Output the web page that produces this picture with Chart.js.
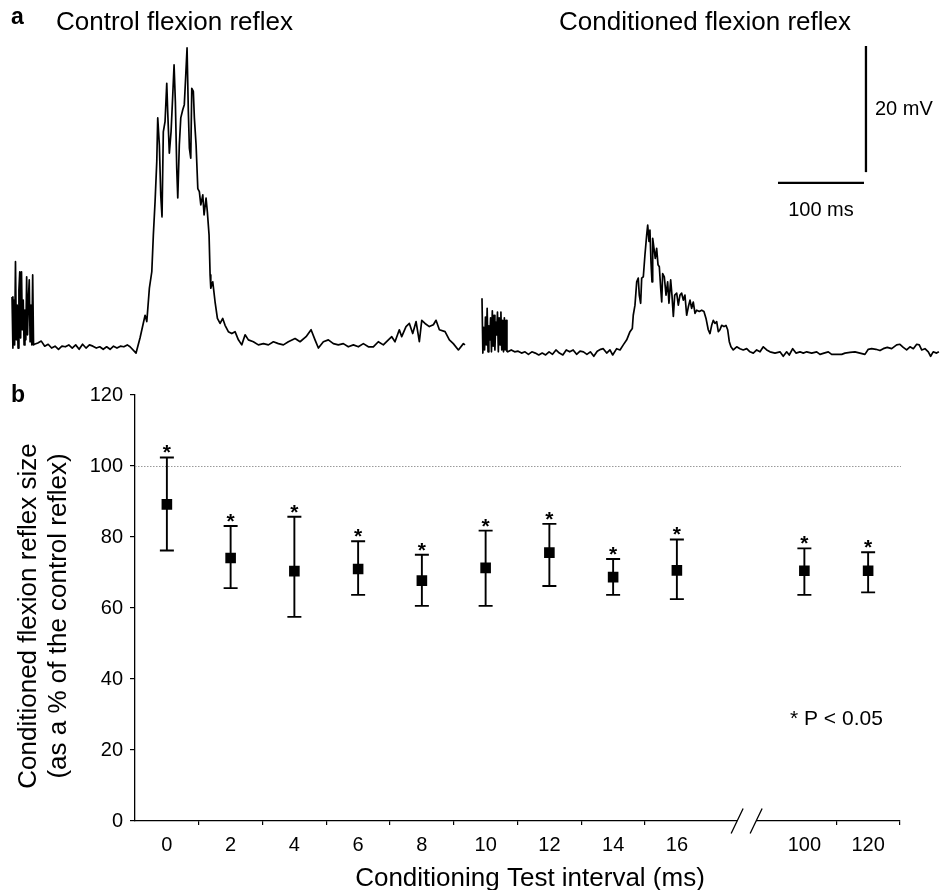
<!DOCTYPE html>
<html>
<head>
<meta charset="utf-8">
<script src="https://cdn.jsdelivr.net/npm/chart.js@4.4.1/dist/chart.umd.min.js"></script>
<style>
  html, body { margin: 0; padding: 0; background: #fff; }
  .wrap { position: relative; width: 940px; height: 890px; }
  #traces { position: absolute; left: 0; top: 0; }
  #reflex { position: absolute; left: 0; top: 372px; }
</style>
</head>
<body>
<div class="wrap">
  <canvas id="traces" width="940" height="372"></canvas>
  <canvas id="reflex" width="940" height="518"></canvas>
</div>
<script>
// Panel a : EMG traces, [time (ms), amplitude (mV)]
const controlTrace = [
  [0, 8.1], [1, 0], [2, 7.6], [3, 0.5], [4, 13.7], [5, 1.3], [6, 6.8], [7, 0], [8, 9.2], [9, 12.1],
  [10, 1.6], [11, 12.1], [12, 2.9], [13, 7.6], [14, 0.5], [15, 6.0], [16, 1.3], [17, 11.3], [18, 2.1],
  [19, 7.6], [20, 10.8], [21, 1.0], [22, 6.8], [23, 0.5], [24, 11.6], [25, 0.5],
  [26, 0.6], [30, 0.8], [34, 1.1], [38, 0.3], [42, 0.6], [46, 0], [50, 0.3], [54, -0.2], [58, 0.3],
  [62, 0.2], [66, 0.5], [70, 0], [74, 0.5], [78, -0.2], [82, 0.6], [86, 0], [90, 0.5], [94, 0.3],
  [98, 0], [102, 0.2], [106, -0.2], [110, 0.2], [114, -0.2], [118, 0.3], [122, 0], [126, 0.3],
  [130, 0.2], [134, 0.5], [137.2, 0.2], [144.2, -0.8], [148.8, 1.6], [154.7, 5.2], [156.7, 4.2],
  [159.7, 9.5], [162.5, 12.1], [164.3, 17.9], [166.3, 23.2], [168.3, 29.6], [169.4, 36.5],
  [171.3, 32.2], [172.9, 24.3], [174.4, 20.8], [175.9, 34.3], [177.9, 35.9], [179.9, 42.0],
  [181.0, 37.5], [182.9, 30.9], [184.9, 34.3], [186.9, 40.2], [188.4, 44.9], [189.9, 39.1],
  [191.5, 28.5], [192.7, 23.8], [194.5, 32.2], [196.2, 36.5], [198.5, 37.8], [200.3, 38.6],
  [202.0, 43.3], [203.5, 47.6], [205.0, 37.5], [206.2, 31.7], [207.8, 30.1], [209.0, 41.2],
  [210.8, 40.7], [212.0, 36.5], [214.0, 32.2], [216.0, 25.3], [217.8, 24.8], [219.5, 22.7],
  [221.8, 24.3], [223.3, 21.1], [225.6, 23.8], [227.1, 21.6], [229.1, 17.9], [230.3, 11.6],
  [231.1, 9.5], [233.4, 10.5], [236.1, 7.3], [238.8, 4.7], [241.9, 3.9], [245.0, 4.7], [247.7, 3.6],
  [251.5, 2.6], [255.5, 2.3], [259.3, 2.6], [263.2, 1.3], [267.1, 0.5], [271.0, 2.1], [274.8, 1.3],
  [280.6, 1.0], [286.4, 0.5], [292.3, 0.7], [298.1, 0.5], [303.9, 1.0], [309.7, 0.7], [315.5, 0.5],
  [321.3, 1.0], [329.1, 1.5], [334.9, 1.0], [341.9, 1.8], [347.7, 2.9], [352.3, 1.3], [356.2, 0.0],
  [362.0, 1.0], [367.8, 1.3], [373.6, 0.7], [379.4, 0.5], [385.2, 0.7], [391.0, 0.2], [396.9, 0.5],
  [402.7, 0.2], [408.5, 0.7], [414.3, 0.2], [420.1, 0.2], [425.9, 1.0], [431.7, 0.5], [437.6, 1.3],
  [441.5, 1.8], [445.3, 1.0], [450.3, 2.9], [453.1, 1.8], [458.1, 3.4], [462.0, 3.9], [465.9, 2.3],
  [469.8, 4.2], [473.6, 1.0], [476.4, 4.4], [480.2, 3.9], [485.2, 3.4], [489.9, 3.7], [493.0, 4.4],
  [496.9, 2.9], [503.5, 2.6], [508.5, 1.3], [513.1, 0.7], [519.0, -0.3], [524.8, 0.7], [526.7, 0.5],
];

const conditionedTrace = [
  [0, 8.7], [1, 0], [2, 4.1], [3, 0.5], [4, 5.7], [5, 1.3], [6, 7.1], [7, 0.2], [8, 4.3], [9, 2.1],
  [10, 5.6], [11, 0.2], [12, 6.7], [13, 1.1], [14, 6.0], [15, 0.5], [16, 4.9], [17, 2.9], [18, 6.5],
  [19, 0.2], [20, 5.6], [21, 1.3], [22, 6.5], [23, 0.5], [24, 5.2], [25, 0.2], [26, 5.6], [27, 0.5],
  [28, 5.2], [29, 0.3],
  [30, 0.2], [34, 0.5], [38, 0.2], [42, 0.3], [46, 0], [50, 0.2], [54, -0.2], [58, 0.2], [62, 0],
  [66, -0.3], [70, 0], [74, -0.3], [78, 0.2], [82, -0.2], [86, 0.5], [90, 0], [94, -0.3], [98, 0.5],
  [102, 0.2], [106, 0.5], [110, -0.2], [114, 0.3], [118, 0.2], [122, -0.2], [126, 0.2], [130, -0.5],
  [134, 0.3], [138, 0.6], [141.0, 0.7], [145.0, 0.0], [148.8, 0.5], [152.0, -0.3], [156.6, 0.7],
  [160.5, 0.5], [164.3, 1.3], [168.3, 2.1], [172.1, 3.4], [174.8, 3.9], [175.9, 6.0], [177.9, 7.6],
  [179.9, 11.3], [181.7, 11.9], [182.9, 9.2], [184.5, 7.9], [185.7, 11.9], [187.6, 12.1],
  [189.5, 15.6], [191.5, 18.7], [192.7, 20.3], [194.2, 17.7], [195.3, 19.5], [196.5, 14.5],
  [197.7, 11.3], [198.5, 18.2], [200.0, 16.6], [201.5, 15.0], [203.1, 16.6], [204.7, 14.0],
  [206.2, 13.7], [207.8, 10.3], [209.0, 8.1], [210.1, 12.6], [212.0, 12.1], [214.0, 9.2],
  [215.9, 11.3], [217.4, 7.9], [219.4, 11.6], [220.9, 9.2], [222.5, 5.8], [224.1, 9.2], [226.4, 9.5],
  [228.3, 7.6], [230.2, 9.2], [232.2, 9.5], [234.1, 8.4], [236.0, 9.2], [238.0, 6.0], [239.9, 7.3],
  [241.9, 8.4], [243.8, 7.1], [245.7, 8.1], [247.7, 6.3], [249.7, 6.8], [252.7, 6.6], [255.5, 6.8],
  [258.1, 6.6], [260.5, 5.5], [263.1, 3.7], [265.1, 3.1], [267.1, 4.4], [269.0, 5.2], [270.9, 4.7],
  [272.9, 5.0], [274.8, 3.4], [276.7, 3.7], [278.7, 4.4], [281.4, 4.2], [283.7, 4.4], [285.7, 3.7],
  [287.6, 1.8], [289.5, 1.0], [292.2, 0.5], [296.2, 1.0], [300.0, 0.7], [303.8, 0.5], [307.8, 0.7],
  [311.6, 0.2], [315.5, 0.0], [319.4, 0.5], [323.3, 0.2], [327.1, 1.0], [331.1, 0.5], [334.9, 0.2],
  [340.7, 0.0], [346.5, 0.2], [350.3, -0.5], [354.3, 0.2], [357.3, -0.3], [361.3, 0.7], [365.1, 0.0],
  [369.8, 0.2], [373.6, 0.0], [377.6, 0.2], [383.4, 0.0], [389.2, 0.2], [393.0, -0.2], [397.7, 0.0],
  [402.7, 0.2], [406.6, -0.2], [412.4, -0.2], [418.3, -0.2], [422.1, 0.0], [427.9, 0.1], [433.7, 0.2],
  [439.5, 0.0], [445.3, -0.2], [449.2, 0.6], [453.1, 0.7], [458.1, 0.6], [462.8, 0.4], [466.6, 0.7],
  [471.3, 0.9], [476.4, 0.7], [482.2, 1.3], [486.0, 1.4], [489.9, 0.9], [493.8, 0.5], [497.7, 1.0],
  [501.6, 0.7], [505.5, 1.4], [508.5, 1.3], [511.3, 0.5], [515.1, 0.7], [519.0, 0.2], [521.7, -0.5],
  [524.7, 0.2], [528.6, 0.0], [531.3, 0.2],
];

const scaleBarMs = 100;
const scaleBarMv = 20;

// Panel b : conditioned reflex size (% of control)
const intervals = [0, 2, 4, 6, 8, 10, 12, 14, 16, 100, 120];
const breakAfter = 16;
const meanSize = [89.2, 74.1, 70.4, 71.0, 67.7, 71.3, 75.6, 68.7, 70.6, 70.5, 70.5];
const upperSize = [102.4, 83.1, 85.7, 78.8, 75.0, 81.8, 83.7, 73.8, 79.3, 76.8, 75.7];
const lowerSize = [76.2, 65.6, 57.5, 63.7, 60.6, 60.6, 66.2, 63.7, 62.5, 63.7, 64.4];
const significant = [true, true, true, true, true, true, true, true, true, true, true];
const yTicks = [0, 20, 40, 60, 80, 100, 120];

const FONT = '"Liberation Sans", Arial, sans-serif';
Chart.defaults.font.family = FONT;
Chart.defaults.color = "#000";

const toXY = (pairs) => pairs.map(([t, v]) => ({ x: t, y: v }));

// Panel a
const barT = 446.5;
const barV = 28.7;
const barY = 27.0;

const tracesText = {
  id: "tracesText",
  afterDraw(chart) {
    const { ctx } = chart;
    const x2 = chart.scales.x2;
    const y2 = chart.scales.y2;
    ctx.save();
    ctx.fillStyle = "#000";
    ctx.textBaseline = "alphabetic";
    ctx.font = `bold 23px ${FONT}`;
    ctx.fillText("a", 11, 24);
    ctx.font = `26px ${FONT}`;
    ctx.fillText("Control flexion reflex", 56, 30);
    ctx.fillText("Conditioned flexion reflex", 559, 30);
    ctx.font = `20px ${FONT}`;
    const vx = x2.getPixelForValue(barT);
    const vy = (y2.getPixelForValue(barV) + y2.getPixelForValue(barV + scaleBarMv)) / 2;
    ctx.textBaseline = "middle";
    ctx.fillText(`${scaleBarMv} mV`, vx + 9, vy);
    const hx = (x2.getPixelForValue(barT - 2.3 - scaleBarMs) + x2.getPixelForValue(barT - 2.3)) / 2;
    ctx.textAlign = "center";
    ctx.fillText(`${scaleBarMs} ms`, hx, y2.getPixelForValue(barY) + 28);
    ctx.restore();
  },
};

new Chart(document.getElementById("traces"), {
  type: "line",
  data: {
    datasets: [
      { data: toXY(controlTrace), xAxisID: "x", yAxisID: "y" },
      { data: toXY(conditionedTrace), xAxisID: "x2", yAxisID: "y2" },
      {
        data: [{ x: barT, y: barV }, { x: barT, y: barV + scaleBarMv }],
        xAxisID: "x2", yAxisID: "y2", borderWidth: 2.3, borderJoinStyle: "miter", borderCapStyle: "butt",
      },
      {
        data: [{ x: barT - 2.3 - scaleBarMs, y: barY }, { x: barT - 2.3, y: barY }],
        xAxisID: "x2", yAxisID: "y2", borderWidth: 2.3, borderJoinStyle: "miter", borderCapStyle: "butt",
      },
    ],
  },
  options: {
    responsive: false,
    animation: false,
    devicePixelRatio: 1,
    layout: { padding: 0 },
    elements: {
      line: { borderColor: "#000", borderWidth: 1.7, tension: 0, borderJoinStyle: "round", fill: false },
      point: { radius: 0 },
    },
    plugins: { legend: { display: false }, tooltip: { enabled: false } },
    scales: {
      x: { type: "linear", display: false, min: -14, max: 1079 },
      y: { type: "linear", display: false, min: -3.8, max: 55.2 },
      x2: { type: "linear", display: false, min: -560.5, max: 532.6 },
      y2: { type: "linear", display: false, min: -3.0, max: 56.0 },
    },
  },
  plugins: [tracesText],
});

// Panel b
const labels = [];
const withGap = (arr) => {
  const out = [];
  intervals.forEach((v, i) => {
    out.push(arr[i]);
    if (v === breakAfter) out.push(null);
  });
  return out;
};
intervals.forEach((v) => {
  labels.push(String(v));
  if (v === breakAfter) labels.push("");
});
const gapIndex = labels.indexOf("");
const hiGap = withGap(upperSize);
const loGap = withGap(lowerSize);
const sigGap = withGap(significant);

const errorBars = {
  id: "errorBars",
  beforeDatasetsDraw(chart) {
    const { ctx, chartArea, scales: { y } } = chart;
    // reference line at 100 %
    ctx.save();
    ctx.strokeStyle = "#9a9a9a";
    ctx.lineWidth = 1;
    ctx.setLineDash([1.5, 1.5]);
    ctx.beginPath();
    const y100 = Math.round(y.getPixelForValue(100)) + 0.5;
    ctx.moveTo(chartArea.left, y100);
    ctx.lineTo(chartArea.right + 1, y100);
    ctx.stroke();
    ctx.setLineDash([]);

    ctx.strokeStyle = "#000";
    ctx.lineWidth = 1.9;
    chart.getDatasetMeta(0).data.forEach((pt, i) => {
      if (hiGap[i] == null) return;
      const yt = y.getPixelForValue(hiGap[i]);
      const yb = y.getPixelForValue(loGap[i]);
      ctx.beginPath();
      ctx.moveTo(pt.x, yt);
      ctx.lineTo(pt.x, yb);
      ctx.moveTo(pt.x - 7, yt);
      ctx.lineTo(pt.x + 7, yt);
      ctx.moveTo(pt.x - 7, yb);
      ctx.lineTo(pt.x + 7, yb);
      ctx.stroke();
    });
    ctx.restore();
  },
  afterDatasetsDraw(chart) {
    const { ctx, scales: { y } } = chart;
    ctx.save();
    ctx.fillStyle = "#000";
    ctx.font = `bold 21px ${FONT}`;
    ctx.textAlign = "center";
    ctx.textBaseline = "alphabetic";
    chart.getDatasetMeta(0).data.forEach((pt, i) => {
      if (!sigGap[i]) return;
      ctx.fillText("*", pt.x, y.getPixelForValue(hiGap[i]) + 2);
    });
    ctx.restore();
  },
  afterDraw(chart) {
    const { ctx, chartArea, scales: { x } } = chart;
    ctx.save();
    // axis break
    const c = x.getPixelForValue(gapIndex) + 6;
    const ay = chartArea.bottom;
    ctx.fillStyle = "#fff";
    ctx.fillRect(c - 9.5, ay - 3, 19, 6);
    ctx.strokeStyle = "#000";
    ctx.lineWidth = 1.3;
    ctx.beginPath();
    [c - 9.5, c + 9.5].forEach((cx) => {
      ctx.moveTo(cx - 6, ay + 12.5);
      ctx.lineTo(cx + 6, ay - 12.5);
    });
    ctx.stroke();

    ctx.fillStyle = "#000";
    ctx.textBaseline = "alphabetic";
    ctx.font = `bold 23px ${FONT}`;
    ctx.fillText("b", 11, 30);
    ctx.font = `21px ${FONT}`;
    ctx.fillText("* P < 0.05", 790, 353);
    ctx.font = `26px ${FONT}`;
    ctx.textAlign = "center";
    ctx.fillText("Conditioning Test interval (ms)", 530, 514);
    ctx.save();
    ctx.translate(36, 244);
    ctx.rotate(-Math.PI / 2);
    ctx.fillText("Conditioned flexion reflex size", 0, 0);
    ctx.restore();
    ctx.save();
    ctx.translate(66, 244);
    ctx.rotate(-Math.PI / 2);
    ctx.fillText("(as a % of the control reflex)", 0, 0);
    ctx.restore();
    ctx.restore();
  },
};

new Chart(document.getElementById("reflex"), {
  type: "line",
  data: {
    labels: labels,
    datasets: [
      {
        data: withGap(meanSize),
        showLine: false,
        pointStyle: "rect",
        pointRadius: 7.5,
        pointBackgroundColor: "#000",
        pointBorderColor: "#000",
        pointBorderWidth: 0,
      },
    ],
  },
  options: {
    responsive: false,
    animation: false,
    devicePixelRatio: 1,
    layout: { padding: { left: 0, right: 40, top: 23, bottom: 0 } },
    plugins: { legend: { display: false }, tooltip: { enabled: false } },
    scales: {
      x: {
        type: "category",
        offset: true,
        afterFit: (scale) => { scale.height = 69; },
        grid: {
          offset: true,
          drawOnChartArea: false,
          tickLength: 4,
          lineWidth: 1.2,
          color: (c) => (c.index === 0 || c.index === gapIndex || c.index === gapIndex + 1 ? "rgba(0,0,0,0)" : "#000"),
        },
        border: { display: true, color: "#000", width: 1.3 },
        ticks: { font: { size: 20 }, color: "#000", padding: 8, maxRotation: 0, autoSkip: false },
      },
      y: {
        min: 0,
        max: 120,
        afterFit: (scale) => { scale.width = 135; },
        afterBuildTicks: (scale) => { scale.ticks = yTicks.map((v) => ({ value: v })); },
        grid: { drawOnChartArea: false, tickLength: 5, lineWidth: 1.2, color: "#000" },
        border: { display: true, color: "#000", width: 1.3 },
        ticks: { font: { size: 20 }, color: "#000", padding: 7 },
      },
    },
  },
  plugins: [errorBars],
});
</script>
</body>
</html>
